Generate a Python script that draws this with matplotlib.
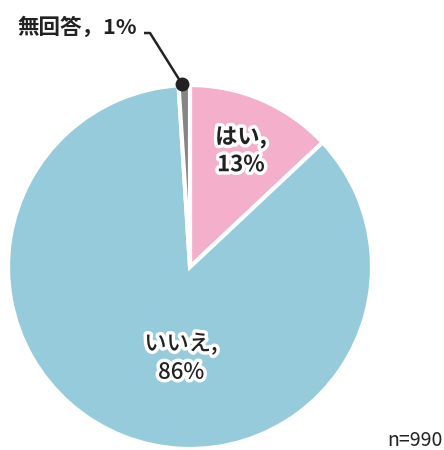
import matplotlib
matplotlib.use("Agg")
import matplotlib.pyplot as plt
import matplotlib.patheffects as pe

plt.rcParams['font.family'] = ['Noto Sans CJK JP', 'DejaVu Sans']

labels = ["はい，\n13%", "いいえ，\n86%", "無回答，1%"]
values = [13, 86, 1]
colors = ["#f4afcb", "#96cbdb", "#858585"]
note = "n=990"

W, H = 444, 450
fig = plt.figure(figsize=(W / 100, H / 100), dpi=100)
ax = fig.add_axes([0, 0, 1, 1])

cx, cy, r = 190, H - 267, 182
wedges, _ = ax.pie(values, colors=colors, startangle=90, counterclock=False,
                   radius=r, center=(cx, cy), frame=True,
                   wedgeprops=dict(edgecolor="white", linewidth=3))
ax.set_xlim(0, W)
ax.set_ylim(0, H)
ax.set_aspect("equal")
ax.axis("off")

glow = [pe.withStroke(linewidth=5, foreground="white")]

# labels inside slices
ax.text(241, H - 151, labels[0].replace("，", ","), ha="center", va="center",
        fontsize=16, fontweight="bold", linespacing=1.25, color="#222222",
        path_effects=glow)
ax.text(181, H - 358, labels[1].replace("，", ","), ha="center", va="center",
        fontsize=16, fontweight="medium", linespacing=1.3, color="#222222",
        path_effects=glow)

# leader for the tiny slice
ax.plot([182, 150, 144], [H - 84, H - 33, H - 33], color="#222222", lw=1.8,
        solid_capstyle="butt")
ax.plot([182], [H - 84], "o", color="#222222", ms=9)
ax.text(17, H - 27, labels[2], ha="left", va="center", fontsize=15.5,
        fontweight="bold", color="#222222")

ax.text(443, H - 440, note, ha="right", va="center", fontsize=14,
        color="#222222")

fig.savefig("out.png", dpi=100)
